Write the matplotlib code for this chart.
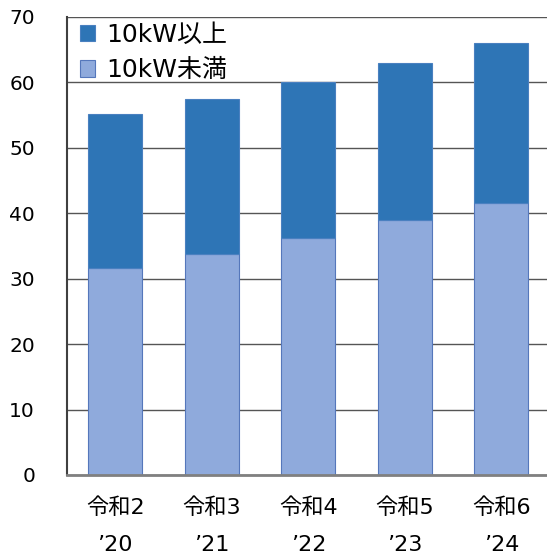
import matplotlib
matplotlib.use("Agg")
import matplotlib.pyplot as plt
import numpy as np

categories = ["令和2\n’20", "令和3\n’21", "令和4\n’22", "令和5\n’23", "令和6\n’24"]
under_10kw = [31.7, 33.8, 36.2, 38.9, 41.5]
over_10kw_total = [55.1, 57.4, 60.0, 62.9, 66.1]
over_10kw = [t - u for t, u in zip(over_10kw_total, under_10kw)]
yticks = [0, 10, 20, 30, 40, 50, 60, 70]

plt.rcParams['font.family'] = ['DejaVu Sans', 'Noto Sans CJK JP']

W, H = 547, 558
fig = plt.figure(figsize=(W / 100, H / 100), dpi=100)
ax = fig.add_axes([67 / W, 1 - 475 / H, 482.5 / W, 458 / H])

x = np.arange(len(categories))
bw = 0.56
b1 = ax.bar(x, under_10kw, bw, color='#8FAADC', edgecolor='#5577bb', linewidth=0.8, zorder=3, label='10kW未満')
b2 = ax.bar(x, over_10kw, bw, bottom=under_10kw, color='#2E75B6', edgecolor='#4a80c0', linewidth=0.8, zorder=3, label='10kW以上')

ax.set_xlim(-0.5, 4.5)
ax.set_ylim(0, 70)
ax.set_yticks(yticks)
ax.set_yticklabels([str(v) for v in yticks], fontsize=14.5)
ax.set_xticks(x)
ax.set_xticklabels(categories, fontsize=16, linespacing=2.05)
ax.tick_params(axis='y', length=0, pad=23)
ax.tick_params(axis='x', length=0, pad=16)

ax.grid(axis='y', color='#555555', linewidth=1.0, zorder=0)
ax.set_axisbelow(True)
for s in ['top', 'right']:
    ax.spines[s].set_visible(False)
ax.spines['left'].set_color('#404040')
ax.spines['left'].set_linewidth(1.5)
ax.spines['bottom'].set_color('#808080')
ax.spines['bottom'].set_linewidth(2)
ax.spines['bottom'].set_zorder(4)

leg = ax.legend(handles=[b2, b1], loc='upper left', bbox_to_anchor=(-0.01, 1.025),
                frameon=False, fontsize=18, handlelength=0.62, handleheight=0.62,
                handletextpad=0.45, labelspacing=0.45, borderaxespad=0.3)

fig.savefig("out.png", dpi=100)
